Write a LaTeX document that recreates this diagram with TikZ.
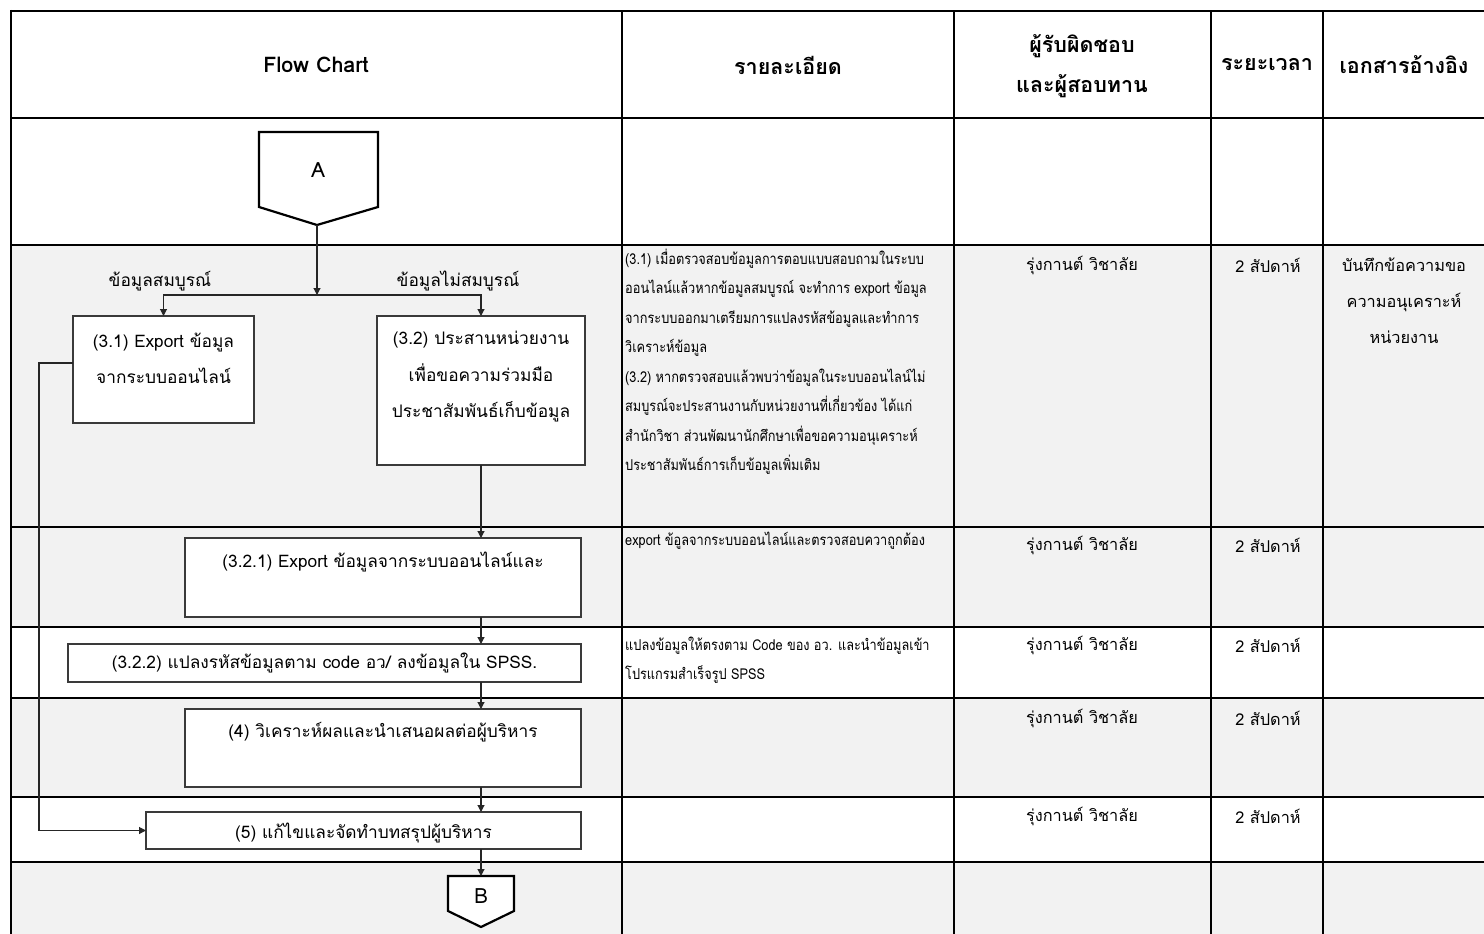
\documentclass[tikz,border=0pt]{standalone}
\usepackage{fontspec}
\setmainfont[Script=Thai]{Loma}
\newfontfamily\condfont[Script=Thai,FakeStretch=0.85]{Loma}
\usetikzlibrary{arrows.meta}
\definecolor{rowshade}{HTML}{F2F2F2}
\definecolor{boxline}{HTML}{3A3A3A}
\begin{document}
\begin{tikzpicture}[x=1pt,y=-1pt,
  hgrid/.style={line width=2.6pt,black},
  vgrid/.style={line width=2pt,black},
  stepbox/.style={draw=boxline,line width=1.1pt,fill=white,inner sep=0pt,outer sep=0pt},
  flow/.style={draw=black!85,line width=1.1pt},
  arr/.style={flow,-{Triangle[length=7pt,width=7pt]}},
  head/.style={font=\fontsize{21.5}{40}\selectfont\bfseries,align=center},
  boxtxt/.style={font=\fontsize{17.3}{36.5}\selectfont,align=center},
  celltxt/.style={font=\fontsize{16.3}{36}\selectfont,align=center},
  descline/.style={font=\condfont\fontsize{15}{29.5}\selectfont,anchor=base west,inner sep=0pt},
  offpage/.style={draw=black,line width=2.2pt,line join=miter,fill=white}
]
\useasboundingbox (0,0) rectangle (1484,934);

% shaded table rows
\fill[rowshade] (11,245) rectangle (1484,627);
\fill[rowshade] (11,698) rectangle (1484,797);
\fill[rowshade] (11,862) rectangle (1484,934);

% table rules
\foreach \yy in {11,118,245,527,627,698,797,862}
  \draw[hgrid] (10,\yy) -- (1484,\yy);
\draw[line width=2.6pt] (11,10) -- (11,934);
\foreach \xx in {622,954,1211,1323}
  \draw[vgrid] (\xx,11) -- (\xx,934);

% header
\node[head] (hFlow) at (316,65) {Flow Chart};
\node[head] (hDet) at (788,65) {รายละเอียด};
\node[head] (hResp) at (1082,66) {ผู้รับผิดชอบ\\และผู้สอบทาน};
\node[head] (hTime) at (1267,65) {ระยะเวลา};
\node[head] (hRef) at (1404,65) {เอกสารอ้างอิง};

% connector A
\draw[offpage] (259,132) -- (378,132) -- (378,207) -- (317,225) -- (259,207) -- cycle;
\node[font=\fontsize{21}{24}\selectfont] (A) at (318,170) {A};
\coordinate (Atip) at (317,225);
\coordinate (J) at (317,295);

% process boxes
\node[stepbox,minimum width=181pt,minimum height=107pt] (b31) at (163.5,369.5) {};
\node[stepbox,minimum width=208pt,minimum height=149pt] (b32) at (481,390.5) {};
\node[stepbox,minimum width=396pt,minimum height=79pt] (b321) at (383,577.5) {};
\node[stepbox,minimum width=513pt,minimum height=38pt] (b322) at (324.5,663) {};
\node[stepbox,minimum width=396pt,minimum height=78pt] (b4) at (383,748) {};
\node[stepbox,minimum width=435pt,minimum height=37pt] (b5) at (363.5,830.5) {};

\node[boxtxt] (t31) at (163.5,358.5) {(3.1) Export ข้อมูล\\จากระบบออนไลน์};
\node[boxtxt] (t32) at (481,377) {(3.2) ประสานหน่วยงาน\\เพื่อขอความร่วมมือ\\ประชาสัมพันธ์เก็บข้อมูล};
\node[boxtxt] (t321) at (383,562) {(3.2.1) Export ข้อมูลจากระบบออนไลน์และ};
\node[boxtxt] (t322) at (324.5,663) {(3.2.2) แปลงรหัสข้อมูลตาม code อว/ ลงข้อมูลใน SPSS.};
\node[boxtxt] (t4) at (383,732) {(4) วิเคราะห์ผลและนำเสนอผลต่อผู้บริหาร};
\node[boxtxt] (t5) at (363.5,833) {(5) แก้ไขและจัดทำบทสรุปผู้บริหาร};

% branch labels
\node[boxtxt] (lyes) at (160,281) {ข้อมูลสมบูรณ์};
\node[boxtxt] (lno) at (458,281) {ข้อมูลไม่สมบูรณ์};

% connector B
\draw[offpage] (448,876) -- (514,876) -- (514,911) -- (481,927) -- (448,911) -- cycle;
\node[font=\fontsize{21}{24}\selectfont] (B) at (481,896) {B};
\coordinate (Btop) at (481,876);

% flow lines
\coordinate (spine) at (b32.south);
\draw[arr] (Atip) -- (J);
\draw[arr] (J) -| (b31.north);
\draw[arr] (J) -| (b32.north);
\draw[arr] (b32.south) -- (b321.north -| spine);
\draw[arr] (b321.south -| spine) -- (b322.north -| spine);
\draw[arr] (b322.south -| spine) -- (b4.north -| spine);
\draw[arr] (b4.south -| spine) -- (b5.north -| spine);
\draw[arr] (b5.south -| spine) -- (Btop);
\draw[arr] (b31.west) ++(0,-6.5) -- ++(-34,0) |- (b5.west);

% details column
\foreach \t [count=\i] in {%
  {(3.1) เมื่อตรวจสอบข้อมูลการตอบแบบสอบถามในระบบ},
  {ออนไลน์แล้วหากข้อมูลสมบูรณ์ จะทำการ export ข้อมูล},
  {จากระบบออกมาเตรียมการแปลงรหัสข้อมูลและทำการ},
  {วิเคราะห์ข้อมูล},
  {(3.2) หากตรวจสอบแล้วพบว่าข้อมูลในระบบออนไลน์ไม่},
  {สมบูรณ์จะประสานงานกับหน่วยงานที่เกี่ยวข้อง ได้แก่},
  {สำนักวิชา ส่วนพัฒนานักศึกษาเพื่อขอความอนุเคราะห์},
  {ประชาสัมพันธ์การเก็บข้อมูลเพิ่มเติม}}
  \node[descline,name=d3-\i] at (625,264+29.5*\i-29.5) {\t};
\node[descline] (d321) at (625,545) {export ข้อูลจากระบบออนไลน์และตรวจสอบควาถูกต้อง};
\node[descline] (d322a) at (625,650) {แปลงข้อมูลให้ตรงตาม Code ของ อว. และนำข้อมูลเข้า};
\node[descline] (d322b) at (625,679) {โปรแกรมสำเร็จรูป SPSS};

% responsible / duration / reference columns
\foreach \yy/\k in {265/a,545/b,645/c,718/d,816/e}{
  \node[celltxt] (who\k) at (1082,\yy) {รุ่งกานต์ วิชาลัย};
  \node[celltxt] (time\k) at (1268,\yy) {2 สัปดาห์};
}
\node[celltxt] (ref3) at (1404,301) {บันทึกข้อความขอ\\ความอนุเคราะห์\\หน่วยงาน};
\end{tikzpicture}
\end{document}
